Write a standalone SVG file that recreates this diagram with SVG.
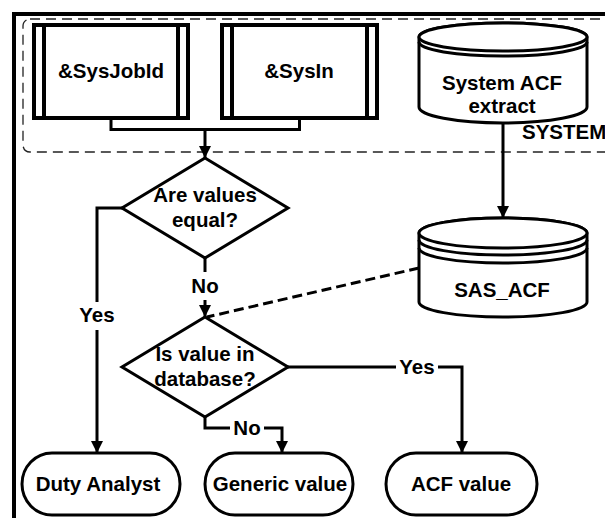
<svg xmlns="http://www.w3.org/2000/svg" width="605" height="518" viewBox="0 0 605 518">
<defs>
<marker id="arr" markerWidth="12" markerHeight="12" viewBox="0 0 12 12" refX="12" refY="6" orient="auto" markerUnits="userSpaceOnUse">
<path d="M0,0 L12,6 L0,12 Z" fill="#000"/>
</marker>
<style>
text{font-family:"Liberation Sans",Arial,sans-serif;font-weight:bold;font-size:20.5px;fill:#000;text-anchor:middle}
.shape{fill:#fff;stroke:#000;stroke-width:3}
.box{fill:#fff;stroke:#000;stroke-width:4}
.line{fill:none;stroke:#000;stroke-width:3}
.dash{fill:none;stroke:#000;stroke-width:3;stroke-dasharray:10 5}
.lbl{fill:#fff;stroke:none}
</style>
</defs>
<rect width="605" height="518" fill="#fff"/>
<rect x="14" y="14" width="600" height="510" fill="none" stroke="#000" stroke-width="4"/>
<g id="group-system">
<rect x="23" y="19" width="600" height="133" rx="7" fill="none" stroke="#222" stroke-width="1.3" stroke-dasharray="10 6"/>
<text x="522" y="139" style="text-anchor:start">SYSTEM</text>
</g>
<g id="connectors">
<path class="line" d="M111,118 V129.5 H299.5 V118"/>
<path class="line" d="M205,129.5 V158" marker-end="url(#arr)"/>
<path class="line" d="M503,123 V218" marker-end="url(#arr)"/>
<path class="line" d="M205,258 V317" marker-end="url(#arr)"/>
<path class="line" d="M123,208 H97 V453" marker-end="url(#arr)"/>
<path class="line" d="M205,417 V428 H282 V453" marker-end="url(#arr)"/>
<path class="line" d="M287,367 H462 V453" marker-end="url(#arr)"/>
<path class="dash" d="M419,268 L207,317"/>
<rect class="lbl" x="190" y="272" width="30" height="28"/>
<text x="205" y="293">No</text>
<rect class="lbl" x="78" y="302" width="39" height="28"/>
<text x="97" y="322">Yes</text>
<rect class="lbl" x="230" y="416" width="34" height="24"/>
<text x="247" y="435">No</text>
<rect class="lbl" x="396" y="355" width="42" height="24"/>
<text x="417" y="374">Yes</text>
</g>
<g id="node-sysjobid">
<rect class="box" x="34" y="25" width="154" height="93"/>
<path class="box" d="M44,25 V118 M178,25 V118"/>
<text x="111" y="78">&amp;SysJobId</text>
</g>
<g id="node-sysin">
<rect class="box" x="222" y="25" width="155" height="93"/>
<path class="box" d="M232,25 V118 M367,25 V118"/>
<text x="299" y="78">&amp;SysIn</text>
</g>
<g id="node-system-acf">
<path class="shape" d="M419,37 A84,14 0 0 1 587,37 V107 A84,16 0 0 1 419,107 Z"/>
<ellipse class="shape" cx="503" cy="37" rx="84" ry="14"/>
<path class="line" d="M419,42 A84,14 0 0 0 587,42"/>
<text x="502" y="90">System ACF</text>
<text x="502" y="113">extract</text>
</g>
<g id="node-sas-acf">
<path class="shape" d="M419,233 A84,15 0 0 1 587,233 V302 A84,15 0 0 1 419,302 Z"/>
<ellipse class="shape" cx="503" cy="233" rx="84" ry="15"/>
<path class="line" d="M419,240 A84,15 0 0 0 587,240 M419,248 A84,15 0 0 0 587,248"/>
<text x="502" y="297">SAS_ACF</text>
</g>
<g id="node-equal">
<path class="shape" d="M205,158 L288,208 L205,258 L122,208 Z"/>
<text x="205" y="202">Are values</text>
<text x="205" y="227">equal?</text>
</g>
<g id="node-indb">
<path class="shape" d="M205,317 L288,367 L205,417 L122,367 Z"/>
<text x="205" y="361">Is value in</text>
<text x="205" y="386">database?</text>
</g>
<g id="node-duty">
<rect class="shape" x="22" y="453" width="158" height="62" rx="30" ry="31"/>
<text x="98" y="491">Duty Analyst</text>
</g>
<g id="node-generic">
<rect class="shape" x="205" y="453" width="148" height="62" rx="30" ry="31"/>
<text x="280" y="491">Generic value</text>
</g>
<g id="node-acf">
<rect class="shape" x="386" y="453" width="151" height="62" rx="30" ry="31"/>
<text x="461" y="491">ACF value</text>
</g>
</svg>
